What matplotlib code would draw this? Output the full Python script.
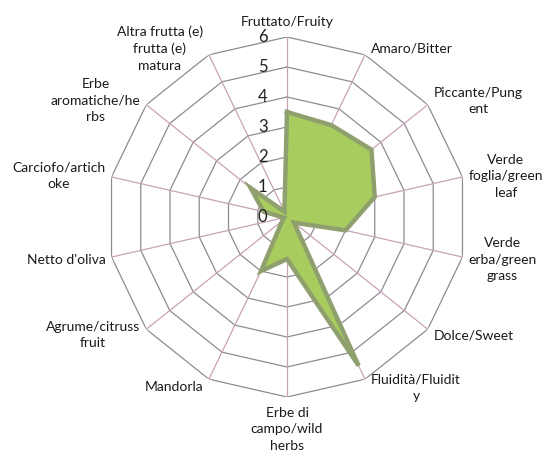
import numpy as np
import matplotlib
matplotlib.use("Agg")
import matplotlib.pyplot as plt

categories = [
    "Fruttato/Fruity",
    "Amaro/Bitter",
    "Piccante/Pung\nent",
    "Verde\nfoglia/green\nleaf",
    "Verde\nerba/green\ngrass",
    "Dolce/Sweet",
    "Fluidità/Fluidit\ny",
    "Erbe di\ncampo/wild\nherbs",
    "Mandorla",
    "Agrume/citruss\nfruit",
    "Netto d'oliva",
    "Carciofo/artich\noke",
    "Erbe\naromatiche/he\nrbs",
    "Altra frutta (e)\nfrutta (e)\nmatura",
]
values = [3.5, 3.4, 3.6, 3.0, 2.0, 0.3, 5.5, 1.4, 2.0, 0.2, 0.1, 0.8, 1.55, 0.2]
ticks = [0, 1, 2, 3, 4, 5, 6]

plt.rcParams['font.family'] = ['Lato', 'DejaVu Sans']

W, H = 546, 456
fig = plt.figure(figsize=(W / 100, H / 100), dpi=100)
cx, cy, R = 287, 238, 180
ax = fig.add_axes([(cx - R) / W, (cy - R) / H, 2 * R / W, 2 * R / H], projection='polar')
ax.set_theta_offset(np.pi / 2)
ax.set_theta_direction(-1)
ax.set_ylim(0, 6)
ax.grid(False)
ax.spines['polar'].set_visible(False)
ax.set_xticks([])
ax.set_yticks([])
ax.patch.set_alpha(0)

n = len(categories)
theta = np.arange(n) * 2 * np.pi / n
theta_c = np.append(theta, theta[0])

ring_color = '#8e8a96'
spoke_color = '#c9a3b3'
for t in ticks[1:]:
    ax.plot(theta_c, [t] * (n + 1), color=ring_color, lw=0.9, zorder=1)
for th in theta:
    ax.plot([th, th], [0, ticks[-1]], color=spoke_color, lw=0.9, zorder=1)

vals_c = np.append(values, values[0])
ax.fill(theta_c, vals_c, color='#a8cd5e', zorder=2)
ax.plot(theta_c, vals_c, color='#8fa06e', lw=3.2, zorder=3, solid_joinstyle='miter')

for t in ticks:
    ax.annotate(str(t), xy=(0, t), xytext=(-14, 0.5), textcoords='offset points',
                ha='right', va='center', fontsize=12, color='#222222')

px = 0.72  # points per pixel at dpi 100
for th, lab in zip(theta, categories):
    s, c = np.sin(th), np.cos(th)
    if abs(s) < 0.15:
        ha = 'center'
        if c > 0:
            va, dx, dy = 'bottom', 0, 10 * px
        else:
            va, dx, dy = 'top', 0, -9 * px
    else:
        va = 'center'
        ha = 'left' if s > 0 else 'right'
        dx = (6 if s > 0 else -6) * px
        dy = 8 * c * px
    ax.annotate(lab, xy=(th, 6), xytext=(dx, dy), textcoords='offset points',
                ha=ha, va=va, multialignment='center', fontsize=10,
                color='#1a1a1a', linespacing=1.45)

fig.savefig('out.png', dpi=100)
